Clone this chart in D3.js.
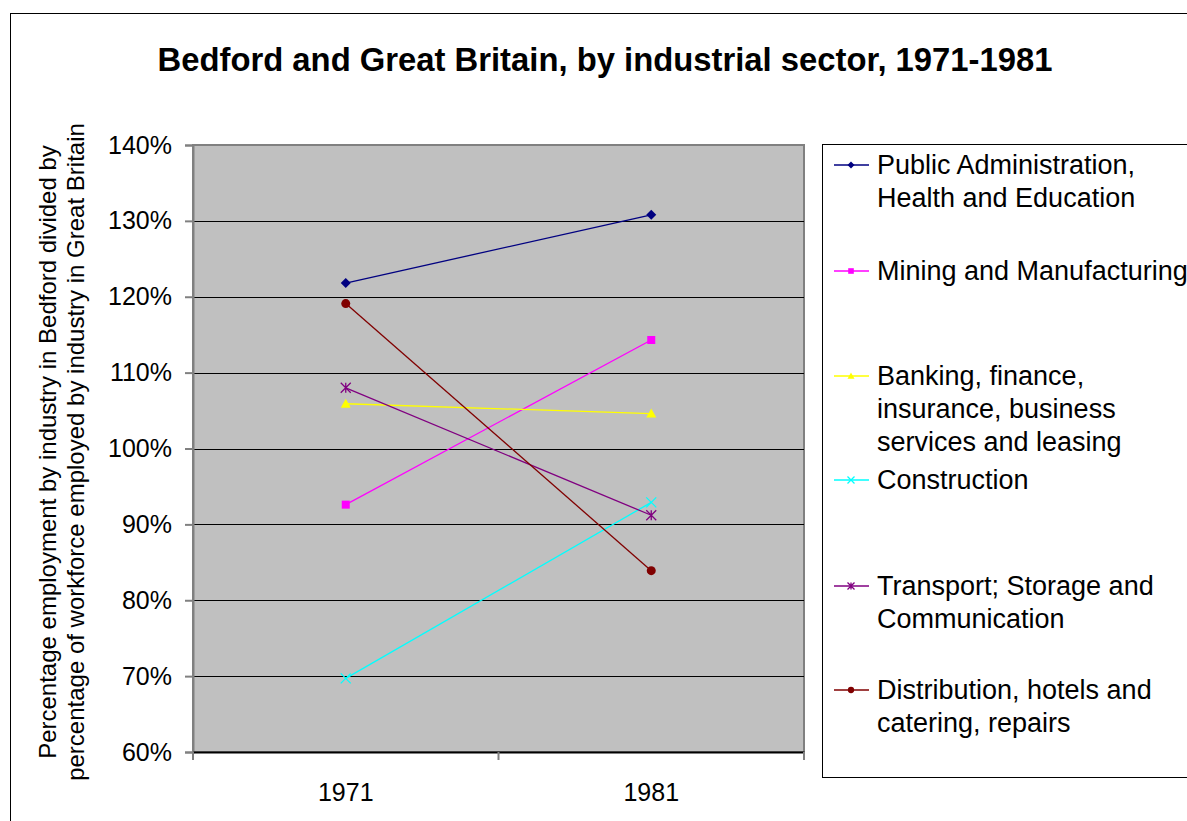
<!DOCTYPE html>
<html>
<head>
<meta charset="utf-8">
<script src="https://cdn.jsdelivr.net/npm/d3@7"></script>
<style>
body { margin: 0; background: #fff; }
text { font-family: "Liberation Sans", Arial, sans-serif; }
</style>
</head>
<body>
<svg id="chart"></svg>
<script>
// data
const years = ['1971', '1981'];
const seriesNames = [
    ['Public Administration,', 'Health and Education'],
    ['Mining and Manufacturing'],
    ['Banking, finance,', 'insurance, business', 'services and leasing'],
    ['Construction'],
    ['Transport; Storage and', 'Communication'],
    ['Distribution, hotels and', 'catering, repairs']
];
const publicAdmin = [121.8, 130.8];
const mining = [92.6, 114.3];
const banking = [105.9, 104.6];
const construction = [69.7, 92.9];
const transport = [108.0, 91.2];
const distribution = [119.1, 83.9];
const yTicks = [60, 70, 80, 90, 100, 110, 120, 130, 140];

const seriesValues = [publicAdmin, mining, banking, construction, transport, distribution];
const colors = ['#000080', '#FF00FF', '#FFFF00', '#00FFFF', '#800080', '#800000'];
const markers = ['diamond', 'square', 'triangle', 'cross', 'star', 'circle'];

const W = 1187, H = 821;
const plot = { left: 193, right: 804, top: 145, bottom: 752 };
const FONT = '"Liberation Sans", Arial, sans-serif';

const svg = d3.select('#chart').attr('width', W).attr('height', H);

// outer frame (runs off right and bottom)
svg.append('rect')
    .attr('x', 10.5).attr('y', 13.5)
    .attr('width', W + 10).attr('height', H + 10)
    .attr('fill', 'none').attr('stroke', '#000').attr('stroke-width', 1);

svg.append('text')
    .attr('x', 605).attr('y', 71)
    .attr('text-anchor', 'middle')
    .attr('font-size', 32.8).attr('font-weight', 'bold')
    .text('Bedford and Great Britain, by industrial sector, 1971-1981');

const x = d3.scaleBand().domain(years).range([plot.left, plot.right]);
const y = d3.scaleLinear().domain([60, 140]).range([plot.bottom, plot.top]);

// plot area
svg.append('rect')
    .attr('x', plot.left).attr('y', plot.top)
    .attr('width', plot.right - plot.left).attr('height', plot.bottom - plot.top)
    .attr('fill', '#C0C0C0').attr('stroke', '#808080').attr('stroke-width', 2);

// gridlines
svg.append('g').selectAll('line')
    .data(yTicks.slice(1, -1))
    .join('line')
    .attr('x1', plot.left).attr('x2', plot.right)
    .attr('y1', d => Math.round(y(d)) + 0.5).attr('y2', d => Math.round(y(d)) + 0.5)
    .attr('stroke', '#000').attr('stroke-width', 1);

// y axis
const yAxis = svg.append('g')
    .attr('transform', `translate(${plot.left},0)`)
    .call(d3.axisLeft(y).tickValues(yTicks).tickSize(8).tickPadding(13).tickFormat(d => d + '%'));
yAxis.select('.domain').attr('stroke', '#808080').attr('stroke-width', 2);
yAxis.selectAll('.tick line').attr('stroke', '#808080').attr('stroke-width', 2);
yAxis.selectAll('text').attr('font-size', 25).attr('fill', '#000')
    .style('font-family', FONT);

// x axis
const xAxis = svg.append('g')
    .attr('transform', `translate(0,${plot.bottom})`)
    .call(d3.axisBottom(x).tickSize(0).tickPadding(31));
xAxis.select('.domain').attr('stroke', '#000').attr('stroke-width', 2);
xAxis.selectAll('text').attr('font-size', 25).attr('fill', '#000')
    .style('font-family', FONT);
// category boundary ticks
svg.append('g').selectAll('line')
    .data([0, 1, 2])
    .join('line')
    .attr('x1', i => plot.left + i * x.step()).attr('x2', i => plot.left + i * x.step())
    .attr('y1', plot.bottom).attr('y2', plot.bottom + 8)
    .attr('stroke', '#808080').attr('stroke-width', 2);

// y axis title
const yTitle = svg.append('g').attr('transform', 'translate(0,452) rotate(-90)');
yTitle.append('text')
    .attr('x', 0).attr('y', 56)
    .attr('text-anchor', 'middle').attr('font-size', 24)
    .text('Percentage employment by industry in Bedford divided by');
yTitle.append('text')
    .attr('x', 0).attr('y', 84)
    .attr('text-anchor', 'middle').attr('font-size', 24)
    .text('percentage of workforce employed by industry in Great Britain');

function drawMarker(g, type, color, s) {
    if (type === 'diamond') {
        g.append('path').attr('d', `M0,${-s}L${s},0L0,${s}L${-s},0Z`).attr('fill', color);
    } else if (type === 'square') {
        g.append('rect').attr('x', -s * 0.8).attr('y', -s * 0.8)
            .attr('width', s * 1.6).attr('height', s * 1.6).attr('fill', color);
    } else if (type === 'triangle') {
        g.append('path').attr('d', `M0,${-s}L${s},${s * 0.8}L${-s},${s * 0.8}Z`).attr('fill', color);
    } else if (type === 'cross') {
        g.append('path').attr('d', `M${-s},${-s}L${s},${s}M${-s},${s}L${s},${-s}`)
            .attr('stroke', color).attr('stroke-width', 1.3);
    } else if (type === 'star') {
        g.append('path').attr('d', `M${-s},${-s}L${s},${s}M${-s},${s}L${s},${-s}M0,${-s}L0,${s}`)
            .attr('stroke', color).attr('stroke-width', 1.3);
    } else {
        g.append('circle').attr('r', s * 0.9).attr('fill', color);
    }
}

const line = d3.line()
    .x((d, i) => x(years[i]) + x.bandwidth() / 2)
    .y(d => y(d));

const seriesG = svg.append('g');
seriesValues.forEach((vals, k) => {
    seriesG.append('path')
        .attr('d', line(vals))
        .attr('fill', 'none')
        .attr('stroke', colors[k]).attr('stroke-width', 1.3);
    vals.forEach((v, i) => {
        const g = seriesG.append('g')
            .attr('transform', `translate(${x(years[i]) + x.bandwidth() / 2},${y(v)})`);
        drawMarker(g, markers[k], colors[k], 5);
    });
});

// legend
svg.append('rect')
    .attr('x', 822.5).attr('y', 144.5)
    .attr('width', W).attr('height', 777 - 144)
    .attr('fill', '#fff').attr('stroke', '#000').attr('stroke-width', 1);

const legendY = [165, 271, 376, 480, 586, 690];
const lineGap = 33;
seriesNames.forEach((lines, k) => {
    const g = svg.append('g').attr('transform', `translate(0,${legendY[k]})`);
    g.append('line').attr('x1', 834).attr('x2', 869).attr('y1', 0).attr('y2', 0)
        .attr('stroke', colors[k]).attr('stroke-width', 1.3);
    const m = g.append('g').attr('transform', 'translate(851,0)');
    drawMarker(m, markers[k], colors[k], 3.5);
    lines.forEach((t, j) => {
        g.append('text')
            .attr('x', 877).attr('y', j * lineGap)
            .attr('dy', '0.35em')
            .attr('font-size', 27)
            .text(t);
    });
});
</script>
</body>
</html>
